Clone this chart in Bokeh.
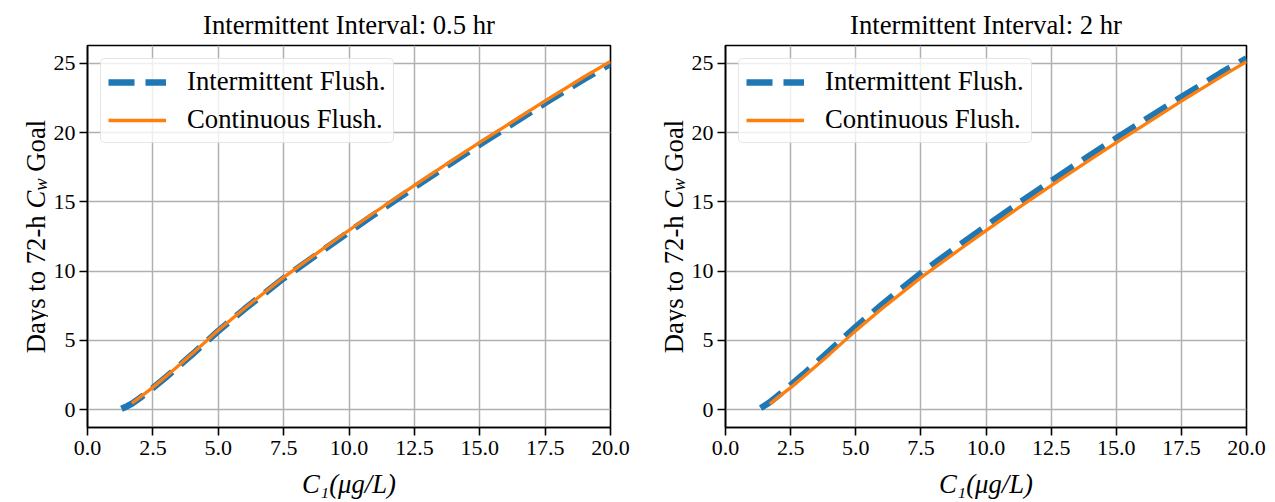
import numpy as np
from bokeh.plotting import figure
from bokeh.layouts import row
from bokeh.models import Range1d, FixedTicker, PrintfTickFormatter
from bokeh.core.properties import value
from bokeh.embed import file_html
from bokeh.resources import INLINE

# ---------------- data ----------------
titles = ["Intermittent Interval: 0.5 hr", "Intermittent Interval: 2 hr"]
series_names = ["Intermittent Flush.", "Continuous Flush."]

c1_intermittent = [1.3, 1.5, 1.7, 2.0, 2.5, 3.0, 3.5, 4.0, 5.0, 6.0, 7.5, 9.0, 10.0,
                   11.0, 12.5, 14.0, 15.0, 16.0, 17.5, 19.0, 20.0]
c1_continuous = [1.7, 2.0, 2.5, 3.0, 3.5, 4.0, 5.0, 6.0, 7.5, 9.0, 10.0, 11.0, 12.5,
                 14.0, 15.0, 16.0, 17.5, 19.0, 20.0]
c1_intermittent_2 = [1.35, 1.5, 1.7, 2.0, 2.5, 3.0, 3.5, 4.0, 5.0, 6.0, 7.5, 9.0, 10.0,
                     11.0, 12.5, 14.0, 15.0, 16.0, 17.5, 19.0, 20.0]

days_int_05 = [0.05, 0.22, 0.42, 0.82, 1.55, 2.33, 3.15, 3.97, 5.67, 7.25, 9.48, 11.5,
               12.83, 14.13, 16.05, 17.92, 19.14, 20.34, 22.14, 23.88, 24.98]
days_cont_05 = [0.45, 0.88, 1.6, 2.38, 3.2, 4.02, 5.72, 7.3, 9.55, 11.6, 12.95, 14.27,
                16.2, 18.08, 19.3, 20.5, 22.3, 24.04, 25.15]

days_int_2 = [0.1, 0.28, 0.52, 0.98, 1.75, 2.56, 3.4, 4.25, 5.97, 7.57, 9.85, 11.9,
              13.25, 14.57, 16.5, 18.38, 19.6, 20.8, 22.58, 24.3, 25.38]
days_cont_2 = [0.4, 0.86, 1.58, 2.36, 3.18, 4.0, 5.7, 7.28, 9.53, 11.58, 12.93, 14.25,
               16.18, 18.06, 19.28, 20.48, 22.28, 24.02, 25.13]

x_ticks = [0, 2.5, 5, 7.5, 10, 12.5, 15, 17.5, 20]
y_ticks = [0, 5, 10, 15, 20, 25]
x_label = "C₁(μg/L)"
y_label_parts = ["Days to 72-h", "C", "w", "Goal"]

# ---------------- styling ----------------
FONT = "Liberation Serif"
BIG = 26.7
BLUE = "#1f77b4"
ORANGE = "#ff7f0e"
H = 502
BT, BB = 45, 75
FH = H - BT - BB
X0, X1 = 0, 20
Y0, Y1 = -1.3, 26.3


def make(title, x_int, y_int, y_cont, width, bl, br):
    p = figure(width=width, height=H, x_range=Range1d(X0, X1), y_range=Range1d(Y0, Y1),
               output_backend="svg", toolbar_location=None,
               min_border_left=bl, min_border_right=br,
               min_border_top=BT, min_border_bottom=BB)
    p.background_fill_color = "white"
    p.border_fill_color = "white"
    p.outline_line_color = "black"
    p.outline_line_width = 1.6

    p.title.text = title
    p.title.text_font = FONT
    p.title.text_font_size = f"{BIG}px"
    p.title.text_font_style = "normal"
    p.title.text_color = "black"
    p.title.align = "center"
    p.title.vertical_align = "top"
    p.title.standoff = 8

    p.xaxis.ticker = FixedTicker(ticks=x_ticks)
    p.yaxis.ticker = FixedTicker(ticks=y_ticks)
    p.xaxis.formatter = PrintfTickFormatter(format="%.1f")
    p.yaxis.formatter = PrintfTickFormatter(format="%d")
    for ax in (p.xaxis, p.yaxis):
        ax.major_label_text_font = FONT
        ax.major_label_text_font_size = "22px"
        ax.major_label_text_color = "black"
        ax.major_tick_out = 8
        ax.major_tick_in = 0
        ax.minor_tick_out = 0
        ax.minor_tick_in = 0
        ax.major_tick_line_width = 1.6
        ax.major_tick_line_color = "black"
        ax.axis_line_color = "black"
        ax.axis_line_width = 1.6
        ax.major_label_standoff = 4
    p.xaxis.major_label_standoff = 5
    p.xaxis.axis_label = x_label
    p.xaxis.axis_label_text_font = FONT
    p.xaxis.axis_label_text_font_size = f"{BIG}px"
    p.xaxis.axis_label_text_font_style = "italic"
    p.xaxis.axis_label_text_color = "black"
    p.xaxis.axis_label_standoff = 11

    p.grid.grid_line_color = "#b0b0b0"
    p.grid.grid_line_width = 1.5

    p.line(x_int, y_int, color=BLUE, line_width=6.5, line_dash="26 11",
           legend_label=series_names[0])
    p.line(c1_continuous, y_cont, color=ORANGE, line_width=3.3,
           legend_label=series_names[1])

    lg = p.legend[0]
    lg.location = "top_left"
    lg.margin = 13
    lg.padding = 7
    lg.spacing = 7
    lg.label_text_font = FONT
    lg.label_text_font_size = f"{BIG}px"
    lg.label_text_color = "black"
    lg.glyph_width = 58
    lg.glyph_height = 28
    lg.label_height = 28
    lg.label_standoff = 21
    lg.border_line_color = "#cccccc"
    lg.border_line_width = 1.6
    lg.background_fill_alpha = 0.8
    try:
        lg.border_radius = 5
    except Exception:
        pass
    return p


def ylabel_fig(width, baseline_x):
    # frame of this strip lines up with the neighbouring plot frame (BT..H-BB)
    f = figure(width=width, height=H, x_range=Range1d(0, width),
               y_range=Range1d(0, FH), title=None,
               output_backend="svg", toolbar_location=None,
               min_border_left=0, min_border_right=0,
               min_border_top=BT, min_border_bottom=BB,
               x_axis_type=None, y_axis_type=None)
    f.outline_line_color = None
    f.grid.visible = False
    f.background_fill_color = "white"
    f.border_fill_color = "white"
    F = BIG
    w1 = 5.166 * F
    sp = 0.25 * F
    wC = 0.667 * F
    ww = 0.667 * 0.7 * F
    wG = 1.944 * F
    total = w1 + sp + wC + ww + sp + wG
    start = FH / 2 - total / 2
    pieces = [
        (y_label_parts[0], 0.0, F, "normal", 0.0),
        (y_label_parts[1], w1 + sp, F, "italic", 0.0),
        (y_label_parts[2], w1 + sp + wC, 0.7 * F, "italic", 0.2 * F),
        (y_label_parts[3], w1 + sp + wC + ww + sp, F, "normal", 0.0),
    ]
    for txt, off, fs, style, dx in pieces:
        f.text(x=[baseline_x + dx], y=[start + off], text=[txt], angle=np.pi / 2,
               text_font=value(FONT), text_font_size=value(f"{fs}px"),
               text_font_style=value(style), text_color="black",
               text_align="left", text_baseline="alphabetic")
    return f


lab1 = ylabel_fig(48, 35)
p1 = make(titles[0], c1_intermittent, days_int_05, days_cont_05, 590, 39, 28)
lab2 = ylabel_fig(48, 35)
p2 = make(titles[1], c1_intermittent_2, days_int_2, days_cont_2, 589, 39, 29)
layout = row(lab1, p1, lab2, p2)

open("out.html", "w").write(file_html(layout, INLINE))
